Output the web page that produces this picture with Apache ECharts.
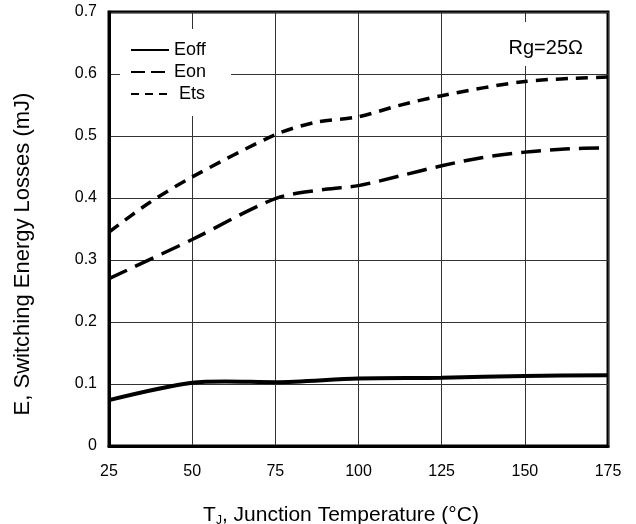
<!DOCTYPE html>
<html>
<head>
<meta charset="utf-8">
<script src="https://cdn.jsdelivr.net/npm/echarts@6/dist/echarts.min.js"></script>
<style>
html, body { margin: 0; padding: 0; background: #fff; }
#chart { width: 636px; height: 524px; }
</style>
</head>
<body>
<div id="chart"></div>
<script>
// values (Tj in °C, energy in mJ)
var eoffTemp = [25, 50, 60, 75, 100, 125, 150, 175]
var eoffVal = [0.074, 0.102, 0.104, 0.103, 0.109, 0.110, 0.113, 0.114]

var eonTemp = [25, 50, 75, 90, 100, 112, 125, 137, 150, 162, 175]
var eonVal = [0.270, 0.333, 0.399, 0.414, 0.420, 0.435, 0.452, 0.465, 0.474, 0.479, 0.481]

var etsTemp = [25, 37, 50, 75, 87, 100, 112, 125, 150, 175]
var etsVal = [0.345, 0.392, 0.434, 0.502, 0.522, 0.531, 0.549, 0.565, 0.588, 0.595]

var xTicks = [25, 50, 75, 100, 125, 150, 175]
var yTicks = [0, 0.1, 0.2, 0.3, 0.4, 0.5, 0.6, 0.7]

function pairs(xs, ys) {
  var out = []
  for (var i = 0; i < xs.length; i++) out.push([xs[i], ys[i]])
  return out
}

var chart = echarts.init(document.getElementById('chart'))
var font = 'Liberation Sans, Arial, sans-serif'

var option = {
  animation: false,
  textStyle: { fontFamily: font },
  title: {
    text: 'Rg=25Ω',
    right: 45,
    top: 22,
    backgroundColor: '#fff',
    padding: [16, 8, 8, 8],
    textStyle: { fontSize: 20, fontWeight: 'normal', color: '#000', fontFamily: font }
  },
  legend: {
    orient: 'vertical',
    left: 120,
    top: 29,
    backgroundColor: '#fff',
    padding: [12, 25, 13, 10],
    itemWidth: 38,
    itemHeight: 14,
    itemGap: 4,
    itemStyle: { opacity: 0 },
    textStyle: { fontSize: 18, color: '#000', fontFamily: font },
    formatter: function (name) { return name === 'Ets' ? ' Ets' : name },
    data: [
      { name: 'Eoff', lineStyle: { width: 2, type: 'solid' } },
      { name: 'Eon', lineStyle: { width: 2, type: [14, 6] } },
      { name: 'Ets', lineStyle: { width: 2, type: [8, 6] } }
    ]
  },
  grid: {
    left: 109,
    right: 28,
    top: 12,
    bottom: 78,
    show: true,
    borderColor: '#000',
    borderWidth: 3
  },
  graphic: [
    {
      type: 'text',
      x: 23,
      y: 254,
      rotation: Math.PI / 2,
      style: {
        text: 'E, Switching Energy Losses (mJ)',
        fontSize: 22,
        fontFamily: font,
        fill: '#000',
        align: 'center',
        verticalAlign: 'middle'
      }
    },
    {
      type: 'text',
      x: 341,
      y: 515,
      style: {
        text: '{t|T}{s|J}{t|, Junction Temperature (°C)}',
        align: 'center',
        verticalAlign: 'middle',
        rich: {
          t: { fontSize: 21, fill: '#000', fontFamily: font },
          s: { fontSize: 12, fill: '#000', fontFamily: font, padding: [12, 0, 0, 0] }
        }
      }
    }
  ],
  xAxis: {
    type: 'value',
    min: xTicks[0],
    max: xTicks[xTicks.length - 1],
    interval: 25,
    axisLine: { lineStyle: { color: '#000', width: 3 } },
    axisTick: { show: false },
    axisLabel: { fontSize: 16, color: '#000', margin: 18 },
    splitLine: { lineStyle: { color: '#333', width: 1 } }
  },
  yAxis: {
    type: 'value',
    min: yTicks[0],
    max: yTicks[yTicks.length - 1],
    interval: 0.1,
    axisLine: { lineStyle: { color: '#000', width: 3 } },
    axisTick: { show: false },
    axisLabel: { fontSize: 16, color: '#000', margin: 12 },
    splitLine: { lineStyle: { color: '#333', width: 1 } }
  },
  series: [
    {
      name: 'Eoff',
      type: 'line',
      smooth: 0.3,
      symbol: 'none',
      color: '#000',
      z: 3,
      lineStyle: { color: '#000', width: 4 },
      data: pairs(eoffTemp, eoffVal)
    },
    {
      name: 'Eon',
      type: 'line',
      smooth: 0.3,
      symbol: 'none',
      color: '#000',
      z: 3,
      lineStyle: { color: '#000', width: 3.5, type: [20, 9] },
      data: pairs(eonTemp, eonVal)
    },
    {
      name: 'Ets',
      type: 'line',
      smooth: 0.3,
      symbol: 'none',
      color: '#000',
      z: 3,
      lineStyle: { color: '#000', width: 3.5, type: [12, 8] },
      data: pairs(etsTemp, etsVal)
    }
  ]
}

chart.setOption(option)
</script>
</body>
</html>
